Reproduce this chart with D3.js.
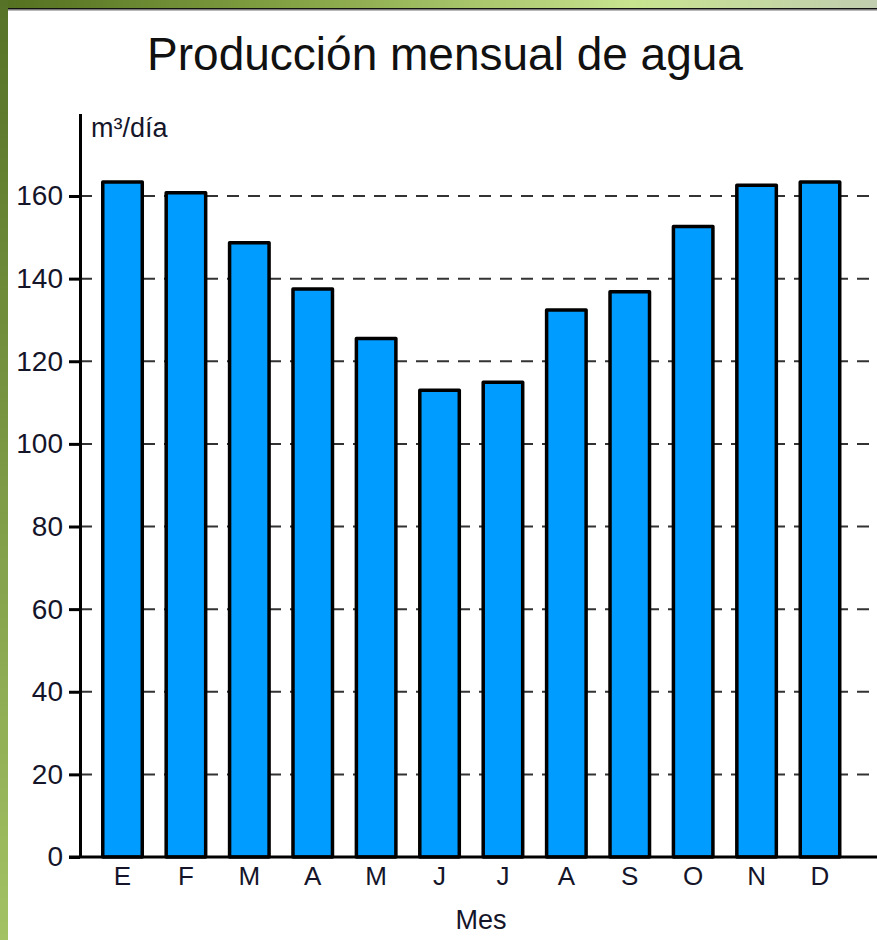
<!DOCTYPE html>
<html>
<head>
<meta charset="utf-8">
<script src="https://cdn.jsdelivr.net/npm/d3@7"></script>
<style>
  html, body { margin: 0; padding: 0; background: #fff; }
  svg { display: block; }
  text { font-family: "Liberation Sans", Arial, sans-serif; }
</style>
</head>
<body>
<svg id="chart" width="877" height="940"></svg>
<script>
// ---- data ----
const months = ["E", "F", "M", "A", "M", "J", "J", "A", "S", "O", "N", "D"];
const production = [163.4, 160.8, 148.7, 137.5, 125.5, 113.0, 114.9, 132.4, 136.8, 152.6, 162.6, 163.4];
const yTicks = [0, 20, 40, 60, 80, 100, 120, 140, 160];
const gridValues = [20, 40, 60, 80, 100, 120, 140, 160];
const title = "Producción mensual de agua";
const yUnit = "m³/día";
const xTitle = "Mes";

const W = 877, H = 940;
const svg = d3.select("#chart");

// ---- slide background decoration ----
const defs = svg.append("defs");
const gl = defs.append("linearGradient").attr("id", "leftg").attr("x1", 0).attr("y1", 0).attr("x2", 0).attr("y2", 1);
gl.append("stop").attr("offset", 0).attr("stop-color", "#557226");
gl.append("stop").attr("offset", 1).attr("stop-color", "#a3c264");
const gt = defs.append("linearGradient").attr("id", "topg").attr("x1", 0).attr("y1", 0).attr("x2", 1).attr("y2", 0);
gt.append("stop").attr("offset", 0).attr("stop-color", "#52701f");
gt.append("stop").attr("offset", 0.35).attr("stop-color", "#86a546");
gt.append("stop").attr("offset", 0.72).attr("stop-color", "#c8e48f");
gt.append("stop").attr("offset", 1).attr("stop-color", "#c1ceb0");

svg.append("rect").attr("x", 0).attr("y", 0).attr("width", W).attr("height", H).attr("fill", "#fff");
svg.append("rect").attr("x", 0).attr("y", 0).attr("width", W).attr("height", 8).attr("fill", "url(#topg)");
svg.append("rect").attr("x", 0).attr("y", 0).attr("width", 8).attr("height", H).attr("fill", "url(#leftg)");
svg.append("rect").attr("x", 8).attr("y", 8).attr("width", W - 8).attr("height", 1.6).attr("fill", "#111");
svg.append("rect").attr("x", 8).attr("y", 9.6).attr("width", W - 8).attr("height", 1).attr("fill", "#8a8a8a");

// ---- scales ----
const y = d3.scaleLinear().domain([0, 180]).range([857, 857 - 180 * 4.13125]);
const x = d3.scaleBand().domain(d3.range(months.length)).range([80, 862.5])
  .paddingInner(0.377).paddingOuter(0.359);

// ---- title ----
svg.append("text").attr("x", 445).attr("y", 70).attr("text-anchor", "middle")
  .attr("font-size", 46).attr("fill", "#111").text(title);

// ---- gridlines (dashed) ----
svg.append("g").selectAll("line").data(gridValues).join("line")
  .attr("x1", 80).attr("x2", W)
  .attr("y1", d => y(d)).attr("y2", d => y(d))
  .attr("stroke", "#333").attr("stroke-width", 2)
  .attr("stroke-dasharray", "12,9");

// ---- bars ----
svg.append("g").selectAll("rect").data(production).join("rect")
  .attr("x", (d, i) => x(i))
  .attr("width", x.bandwidth())
  .attr("y", d => y(d))
  .attr("height", d => y(0) - y(d))
  .attr("fill", "#009cff")
  .attr("stroke", "#000").attr("stroke-width", 3.5)
  .attr("stroke-linejoin", "round");

// ---- y axis ----
const yAxis = svg.append("g").attr("transform", "translate(80,0)")
  .call(d3.axisLeft(y).tickValues(yTicks).tickSize(11).tickSizeOuter(0).tickPadding(6));
yAxis.select(".domain").attr("stroke", "#000").attr("stroke-width", 3);
yAxis.selectAll(".tick line").attr("stroke", "#000").attr("stroke-width", 3);
yAxis.selectAll(".tick text").attr("font-size", 28).attr("fill", "#15152a")
  .attr("font-family", "'Liberation Sans', Arial, sans-serif");

// ---- x axis ----
const xAxis = svg.append("g").attr("transform", `translate(0,${y(0)})`)
  .call(d3.axisBottom(x).tickSize(0).tickPadding(10).tickFormat(i => months[i]));
xAxis.select(".domain").remove();
xAxis.selectAll(".tick text").attr("font-size", 26).attr("fill", "#15152a")
  .attr("font-family", "'Liberation Sans', Arial, sans-serif");
svg.append("line").attr("x1", 69).attr("x2", W).attr("y1", y(0)).attr("y2", y(0))
  .attr("stroke", "#000").attr("stroke-width", 3);

// ---- axis titles ----
svg.append("text").attr("x", 91).attr("y", 137).attr("font-size", 27).attr("fill", "#15152a").text(yUnit);
svg.append("text").attr("x", 481).attr("y", 929).attr("text-anchor", "middle")
  .attr("font-size", 27).attr("fill", "#15152a").text(xTitle);
</script>
</body>
</html>
